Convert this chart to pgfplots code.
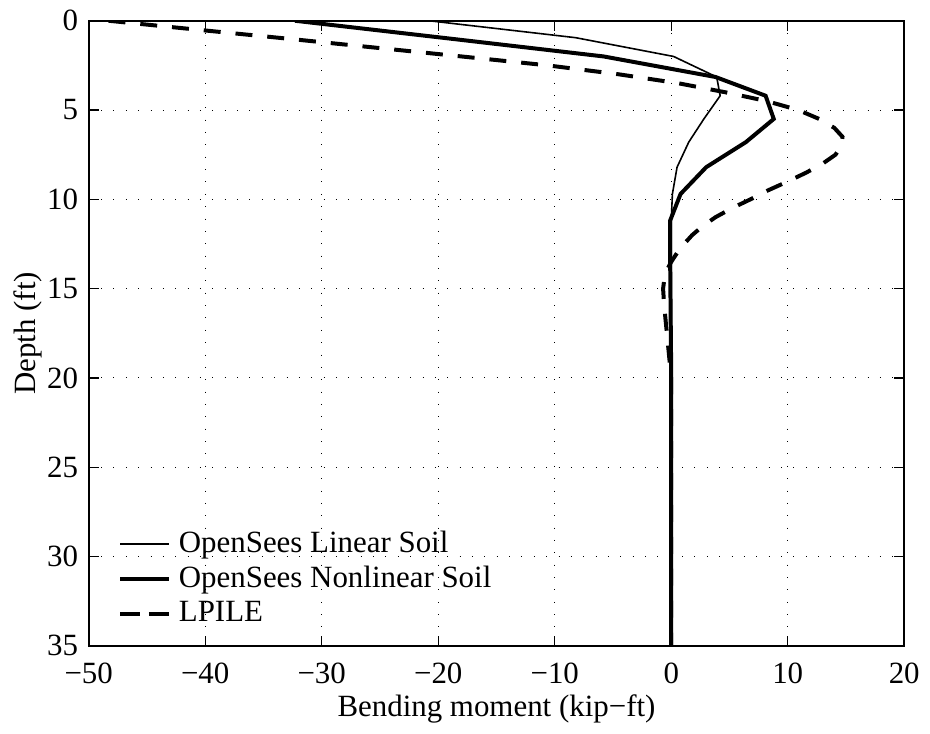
\documentclass[border=0pt]{standalone}
\usepackage{fontspec}
\setmainfont{Liberation Serif}
\usepackage{pgfplots}
\pgfplotsset{compat=1.18}
\begin{document}
\fontsize{15.5}{18}\selectfont
\begin{tikzpicture}
\begin{axis}[
  scale only axis, width=409pt, height=313.5pt,
  xmin=-50, xmax=20, ymin=0, ymax=35, y dir=reverse,
  xtick={-50,-40,-30,-20,-10,0,10,20},
  xticklabels={−50,−40,−30,−20,−10,0,10,20},
  ytick={0,5,10,15,20,25,30,35},
  /pgf/number format/assume math mode=true,
  xtick pos=both, ytick pos=both,
  xticklabel pos=lower, yticklabel pos=left,
  tick align=inside, major tick length=5pt,
  every tick/.style={black, line width=0.7pt},
  axis line style={line width=0.9pt},
  grid=major,
  major grid style={black, line width=0.5pt, dash pattern=on 0.5pt off 5.7pt},
  xticklabel style={yshift=-3pt},
  xlabel={Bending moment (kip−ft)}, ylabel={Depth (ft)},
  xlabel style={at={(axis description cs:0.5,-0.1005)}, anchor=center},
  ylabel style={at={(axis description cs:-0.0746,0.5)}, anchor=center},
  legend cell align=left,
  legend style={at={(axis description cs:0.0355,0.188)}, anchor=north west,
    draw=none, fill=none, inner sep=0pt, row sep=2.6pt,
    nodes={inner ysep=1pt, inner xsep=4pt}},
  legend image code/.code={\draw[#1] (0pt,0pt) -- (24.5pt,0pt);},
]
\addplot[black, line width=0.8pt] coordinates {
(-20.8,0) (-8.2,0.95) (0.2,2.0) (3.9,3.15) (4.2,4.2) (2.8,5.5) (1.5,6.8)
(0.5,8.2) (0.1,9.7) (0.0,11.2) (0.0,35)};
\addlegendentry{OpenSees Linear Soil}
\addplot[black, line width=2pt] coordinates {
(-32.3,0) (-19.0,1.0) (-5.8,2.0) (3.8,3.15) (8.1,4.2) (8.8,5.5) (6.4,6.8)
(3.0,8.2) (0.8,9.7) (-0.1,11.2) (-0.1,13) (0.0,20) (0.0,35)};
\addlegendentry{OpenSees Nonlinear Soil}
\addplot[black, line width=2pt, dash pattern=on 8.5pt off 7.5pt,
  legend image code/.code={\draw[black, line width=2pt, dash pattern=on 10pt off 4.5pt] (0pt,0pt) -- (24.5pt,0pt);}]
  coordinates {
(-48.3,0) (-40.7,0.5) (-33.0,1.0) (-25.5,1.5) (-18.0,2.0) (-10.6,2.5) (-4.5,3.0)
(0.6,3.5) (4.6,4.0) (8.2,4.5) (10.9,5.0) (12.7,5.5) (14.0,6.0) (14.7,6.5)
(14.6,7.0) (14.1,7.5) (13.0,8.0) (11.6,8.5) (10.0,9.0) (8.3,9.5) (6.8,10.0)
(5.2,10.5) (3.8,11.0) (2.7,11.5) (1.8,12.0) (1.1,12.5) (0.5,13.0) (0.0,13.5)
(-0.4,14.0) (-0.6,14.5) (-0.7,15.0) (-0.6,16.0) (-0.45,17.0) (-0.3,18.0)
(-0.15,19.0) (0.0,20.0) (0.0,35)};
\addlegendentry{LPILE}
\end{axis}
\path ([shift={(-44.5pt,-41pt)}]current axis.south west) rectangle ([shift={(11.5pt,9pt)}]current axis.north east);
\end{tikzpicture}
\end{document}
